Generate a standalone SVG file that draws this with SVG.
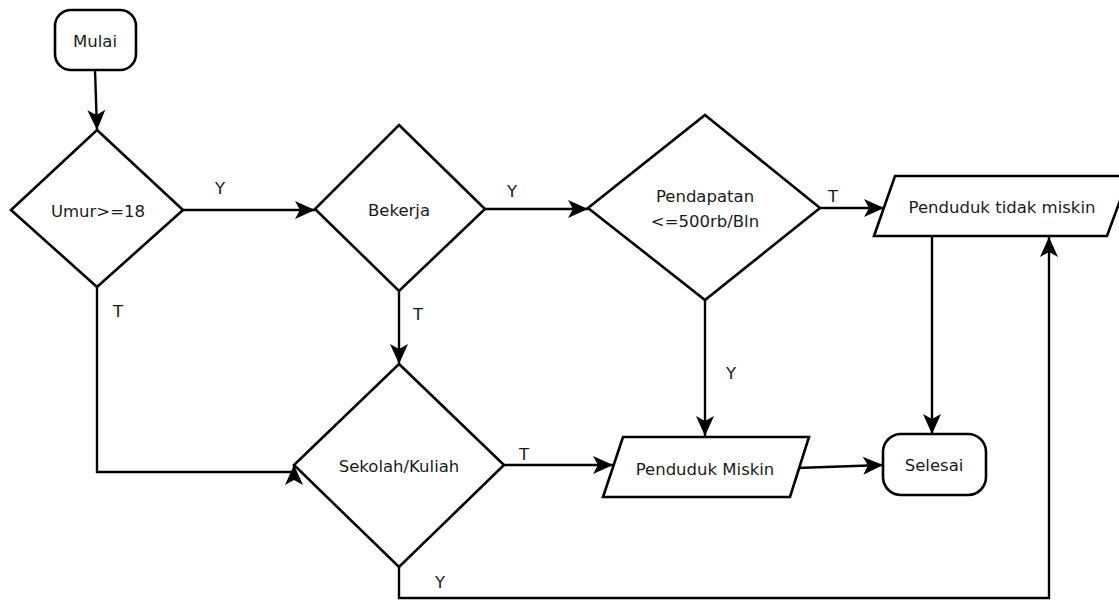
<svg xmlns="http://www.w3.org/2000/svg" width="1119" height="600" viewBox="0 0 1119 600">
  <style>
    .shape { fill: #ffffff; stroke: #000000; stroke-width: 2.6; stroke-linejoin: miter; }
    .edge { fill: none; stroke: #000000; stroke-width: 2.4; marker-end: url(#arrow); }
    text { font-family: "DejaVu Sans", "Liberation Sans", sans-serif; font-size: 16.5px; fill: #1a1a1a; text-anchor: middle; dominant-baseline: central; }
  </style>
  <defs>
    <!-- filled arrowhead with a shallow notch at its base -->
    <marker id="arrow" markerUnits="userSpaceOnUse" markerWidth="22" markerHeight="20" viewBox="0 0 22 20" refX="21" refY="10" orient="auto">
      <path d="M1,1 L21,10 L1,19 L6,10 Z" fill="#000000"/>
    </marker>
  </defs>

  <rect width="1119" height="600" fill="#ffffff"/>

  <!-- connectors -->
  <g id="connectors">
    <path class="edge" d="M95,70 L97,130"/>
    <path class="edge" d="M183,210 H315"/>
    <path class="edge" d="M97,287 V472 H294 V465"/>
    <path class="edge" d="M485,209 H588"/>
    <path class="edge" d="M399,291 V364"/>
    <path class="edge" d="M820,208 H884"/>
    <path class="edge" d="M705,300 V436"/>
    <path class="edge" d="M504,465 H613"/>
    <path class="edge" d="M399,567 V598 H1049 V237"/>
    <path class="edge" d="M932,236 V434"/>
    <path class="edge" d="M797,468 L883,465"/>
    <text x="220" y="188">Y</text>
    <text x="118" y="311">T</text>
    <text x="512" y="191">Y</text>
    <text x="418" y="314">T</text>
    <text x="833" y="196">T</text>
    <text x="731" y="373">Y</text>
    <text x="524" y="454">T</text>
    <text x="440" y="582">Y</text>
  </g>

  <!-- start -->
  <g id="mulai">
    <rect class="shape" x="55" y="10" width="81" height="60" rx="16" ry="16"/>
    <text x="95" y="41">Mulai</text>
  </g>

  <!-- decisions -->
  <g id="umur">
    <polygon class="shape" points="97,130 183,210 97,287 11,210"/>
    <text x="98" y="211">Umur&gt;=18</text>
  </g>

  <g id="bekerja">
    <polygon class="shape" points="399,125 485,209 399,291 315,209"/>
    <text x="399" y="210">Bekerja</text>
  </g>

  <g id="pendapatan">
    <polygon class="shape" points="705,115 820,208 705,300 588,208"/>
    <text x="705" y="196">Pendapatan</text>
    <text x="705" y="221">&lt;=500rb/Bln</text>
  </g>

  <g id="sekolah">
    <polygon class="shape" points="399,364 504,465 399,567 294,465"/>
    <text x="399" y="466">Sekolah/Kuliah</text>
  </g>

  <!-- outputs -->
  <g id="tidak-miskin">
    <polygon class="shape" points="895,176 1129,176 1107,236 874,236"/>
    <text x="1002" y="207">Penduduk tidak miskin</text>
  </g>

  <g id="miskin">
    <polygon class="shape" points="623,437 809,437 790,497 603,497"/>
    <text x="705" y="469">Penduduk Miskin</text>
  </g>

  <!-- end -->
  <g id="selesai">
    <rect class="shape" x="883" y="434" width="103" height="61" rx="18" ry="18"/>
    <text x="934" y="465">Selesai</text>
  </g>
</svg>
